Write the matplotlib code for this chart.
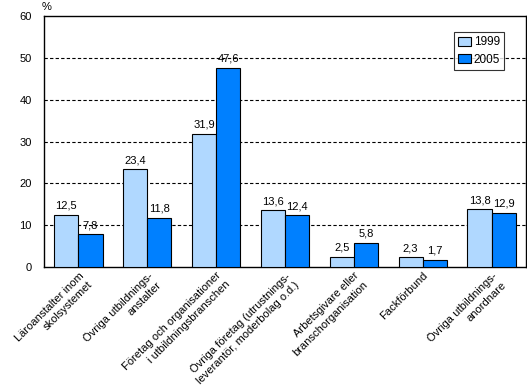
import matplotlib
matplotlib.use("Agg")
import matplotlib.pyplot as plt
import numpy as np

categories = [
    "Läroanstalter inom\nskolsystemet",
    "Övriga utbildnings-\nanstalter",
    "Företag och organisationer\ni utbildningsbranschen",
    "Övriga företag (utrustnings-\nleverantör, moderbolag o.d.)",
    "Arbetsgivare eller\nbranschorganisation",
    "Fackförbund",
    "Övriga utbildnings-\nanordnare",
]
v1999 = [12.5, 23.4, 31.9, 13.6, 2.5, 2.3, 13.8]
v2005 = [7.8, 11.8, 47.6, 12.4, 5.8, 1.7, 12.9]
series_names = ["1999", "2005"]
yticks = [0, 10, 20, 30, 40, 50, 60]

plt.rcParams['font.family'] = ['Liberation Sans', 'DejaVu Sans']
fig = plt.figure(figsize=(5.27, 3.86), dpi=100)
ax = fig.add_axes([0.0835, 0.308, 0.9145, 0.6505])

x = np.arange(len(categories))
w = 0.35
c1 = "#B0D8FF"
c2 = "#0080FF"
b1 = ax.bar(x - w/2, v1999, w, color=c1, edgecolor="black", linewidth=0.8, label=series_names[0], zorder=3)
b2 = ax.bar(x + w/2, v2005, w, color=c2, edgecolor="black", linewidth=0.8, label=series_names[1], zorder=3)

for bars, vals in ((b1, v1999), (b2, v2005)):
    for r, v in zip(bars, vals):
        ax.text(r.get_x() + r.get_width()/2, v + 1.0, f"{v:.1f}".replace(".", ","),
                ha="center", va="bottom", fontsize=8, zorder=4)

ax.set_xlim(-0.5, len(categories) - 0.5)
ax.set_ylim(0, 60)
ax.set_yticks(yticks)
ax.set_yticklabels([str(t) for t in yticks], fontsize=8)
ax.tick_params(axis="y", length=0, pad=9)
ax.tick_params(axis="x", length=0, pad=2.5)
ax.set_xticks(x)
ax.set_xticklabels(categories, rotation=45, ha="right", rotation_mode="anchor",
                   fontsize=8, multialignment="right", linespacing=1.3)
for yv in yticks[1:-1]:
    ax.axhline(yv, color="black", linestyle=(0, (3, 2)), linewidth=0.8, zorder=1)
for s in ax.spines.values():
    s.set_linewidth(1.0)
    s.set_color("black")

ax.text(-0.004, 1.015, "%", transform=ax.transAxes, fontsize=8, ha="left", va="bottom")

leg = ax.legend(loc="upper right", bbox_to_anchor=(0.955, 0.935), fontsize=8.5,
                frameon=True, fancybox=False, edgecolor="black", handlelength=1.1,
                handleheight=0.8, handletextpad=0.2, borderpad=0.35, labelspacing=0.45,
                borderaxespad=0)
leg.get_frame().set_linewidth(0.8)

fig.savefig("out.png", dpi=100)
